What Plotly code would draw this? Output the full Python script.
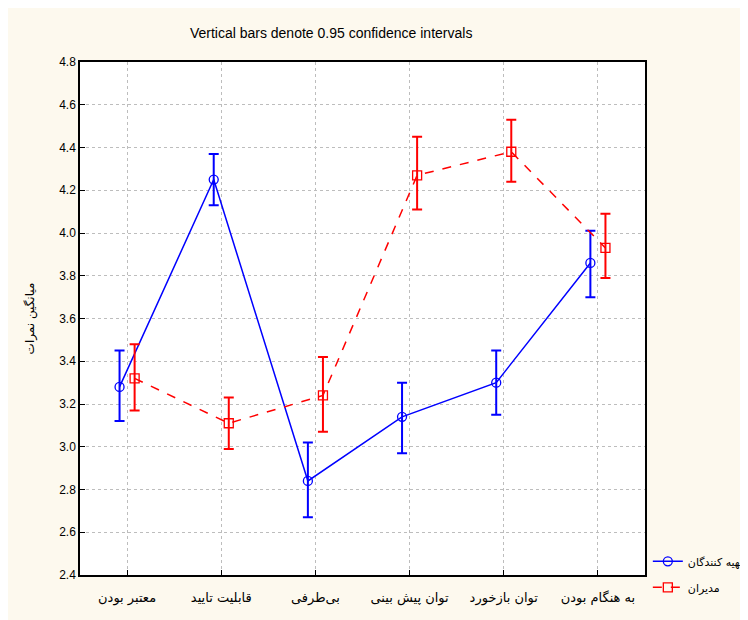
import plotly.graph_objects as go

categories = ["معتبر بودن", "قابلیت تایید", "بی‌طرفی", "توان پیش بینی", "توان بازخورد", "به هنگام بودن"]
series_names = ["تهیه کنندگان", "مدیران"]

blue_mean = [3.28, 4.25, 2.84, 3.14, 3.30, 3.86]
blue_low = [3.12, 4.13, 2.67, 2.97, 3.15, 3.70]
blue_high = [3.45, 4.37, 3.02, 3.30, 3.45, 4.01]

red_mean = [3.32, 3.11, 3.24, 4.27, 4.38, 3.93]
red_low = [3.17, 2.99, 3.07, 4.11, 4.24, 3.79]
red_high = [3.48, 3.23, 3.42, 4.45, 4.53, 4.09]

y_ticks = [2.4, 2.6, 2.8, 3.0, 3.2, 3.4, 3.6, 3.8, 4.0, 4.2, 4.4, 4.6, 4.8]

offset = 0.08
xb = [i - offset for i in range(len(categories))]
xr = [i + offset for i in range(len(categories))]

fig = go.Figure()
fig.add_trace(go.Scatter(
    x=xb, y=blue_mean, name=series_names[0], mode="lines+markers", legendgroup="a",
    line=dict(color="#0000ff", width=1.5),
    marker=dict(symbol="circle-open", size=9, color="#0000ff", line=dict(width=1.3)),
    error_y=dict(type="data", symmetric=False,
                 array=[h - m for h, m in zip(blue_high, blue_mean)],
                 arrayminus=[m - l for m, l in zip(blue_mean, blue_low)],
                 color="#0000ff", thickness=2, width=5),
))
fig.add_trace(go.Scatter(
    x=xr, y=red_mean, name=series_names[1], mode="lines+markers", legendgroup="b",
    line=dict(color="#ff0000", width=1.5, dash="dash"),
    marker=dict(symbol="square-open", size=9, color="#ff0000", line=dict(width=1.3)),
    error_y=dict(type="data", symmetric=False,
                 array=[h - m for h, m in zip(red_high, red_mean)],
                 arrayminus=[m - l for m, l in zip(red_mean, red_low)],
                 color="#ff0000", thickness=2, width=5),
))

fig.update_layout(
    width=748, height=620,
    margin=dict(l=72, r=111, t=54, b=53, autoexpand=False),
    paper_bgcolor="#fdf9ee",
    plot_bgcolor="#ffffff",
    font=dict(family="Liberation Sans, DejaVu Sans, sans-serif", size=12, color="#000000"),
    title=dict(text="Vertical bars denote 0.95 confidence intervals",
               x=0.432, xanchor="center", y=0.96, yanchor="middle",
               font=dict(family="Liberation Sans Narrow, Liberation Sans, sans-serif", size=14)),
    showlegend=True,
    legend=dict(x=1.005, xanchor="left", y=0.055, yanchor="top",
                bgcolor="rgba(0,0,0,0)", font=dict(family="DejaVu Sans, sans-serif", size=11),
                tracegroupgap=7, itemwidth=30),
)
fig.update_xaxes(
    range=[-0.5, 5.5], tickmode="array", tickvals=list(range(len(categories))),
    ticktext=categories, showgrid=True, gridcolor="#bdbdbd", griddash="dot", gridwidth=1,
    showline=True, linecolor="#000000", linewidth=1.5, mirror=True,
    ticks="inside", ticklen=5, tickcolor="#000000", zeroline=False,
    ticklabelstandoff=10,
    tickfont=dict(family="DejaVu Sans, sans-serif", size=13),
)
fig.update_yaxes(
    range=[2.4, 4.8], tickmode="array", tickvals=y_ticks,
    ticktext=[f"{v:.1f}" for v in y_ticks],
    showgrid=True, gridcolor="#bdbdbd", griddash="dot", gridwidth=1,
    showline=True, linecolor="#000000", linewidth=1.5, mirror=True,
    ticks="inside", ticklen=5, tickcolor="#000000", zeroline=False,
    title=dict(text="میانگین نمرات", font=dict(family="DejaVu Sans, sans-serif", size=12), standoff=22),
)

fig.write_html("out.html")
